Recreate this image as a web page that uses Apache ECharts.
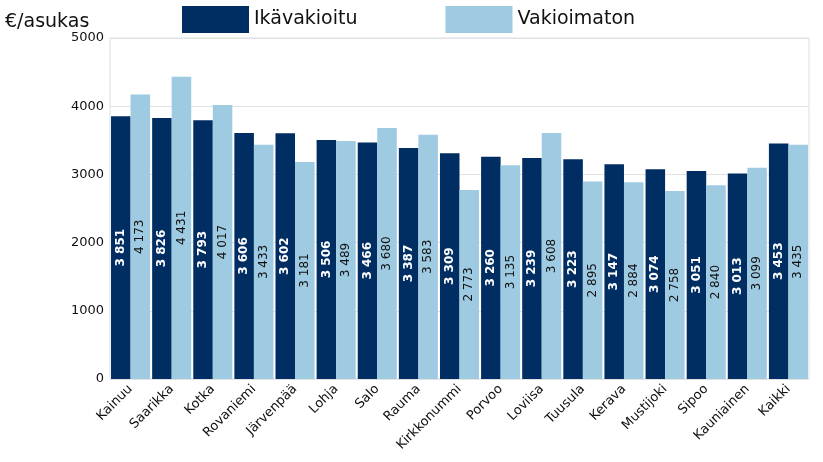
<!DOCTYPE html>
<html><head><meta charset="utf-8">
<script src="https://cdn.jsdelivr.net/npm/echarts@6/dist/echarts.min.js"></script>
<style>html,body{margin:0;padding:0;background:#fff}#c{width:823px;height:462px}</style>
</head><body><div id="c"></div>
<script>
const categories = ["Kainuu","Saarikka","Kotka","Rovaniemi","Järvenpää","Lohja","Salo","Rauma","Kirkkonummi","Porvoo","Loviisa","Tuusula","Kerava","Mustijoki","Sipoo","Kauniainen","Kaikki"];
const ikavakioitu = [3851,3826,3793,3606,3602,3506,3466,3387,3309,3260,3239,3223,3147,3074,3051,3013,3453];
const vakioimaton = [4173,4431,4017,3433,3181,3489,3680,3583,2773,3135,3608,2895,2884,2758,2840,3099,3435];
const yTicks = [0,1000,2000,3000,4000,5000];

const FONT = 'DejaVu Sans, Verdana, sans-serif';
const fmt = v => String(v).replace(/\B(?=(\d{3})+(?!\d))/g, ' ');
const chart = echarts.init(document.getElementById('c'));
chart.setOption({
  animation: false,
  textStyle: {fontFamily: FONT},
  title: {text: '€/asukas', left: 0, top: 8, textStyle: {fontFamily: FONT, fontSize: 19, fontWeight: 'normal', color: '#111'}},
  legend: {left: 182, top: 6, padding: 0, itemWidth: 67, itemHeight: 27, itemGap: 88, icon: 'rect',
    textStyle: {fontFamily: FONT, fontSize: 19, color: '#111'},
    data: ['Ikävakioitu','Vakioimaton']},
  grid: {left: 110, right: 14, top: 38, bottom: 83, show: true, borderColor: '#dbdfe6', borderWidth: 1},
  xAxis: {type: 'category', data: categories,
    axisLine: {show: false}, axisTick: {show: false},
    axisLabel: {rotate: 45, interval: 0, fontSize: 13, color: '#111', fontFamily: FONT, margin: 8}},
  yAxis: {type: 'value', min: yTicks[0], max: yTicks[yTicks.length-1], interval: 1000,
    axisLine: {show: false}, axisTick: {show: false},
    splitLine: {lineStyle: {color: '#e2e2e2'}},
    axisLabel: {fontSize: 13, color: '#111', fontFamily: FONT, margin: 6, formatter: v => String(v)}},
  series: [
    {name: 'Ikävakioitu', type: 'bar', data: ikavakioitu, barGap: '0%', barCategoryGap: '5%',
     itemStyle: {color: '#002d62'},
     label: {show: true, position: 'inside', rotate: 90, formatter: p => fmt(p.value),
       color: '#fff', fontWeight: 'bold', fontSize: 12, fontFamily: FONT}},
    {name: 'Vakioimaton', type: 'bar', data: vakioimaton, barGap: '0%', barCategoryGap: '5%',
     itemStyle: {color: '#9ecae2'},
     label: {show: true, position: 'inside', rotate: 90, formatter: p => fmt(p.value),
       color: '#111', fontSize: 12, fontFamily: FONT}}
  ]
});
</script></body></html>
